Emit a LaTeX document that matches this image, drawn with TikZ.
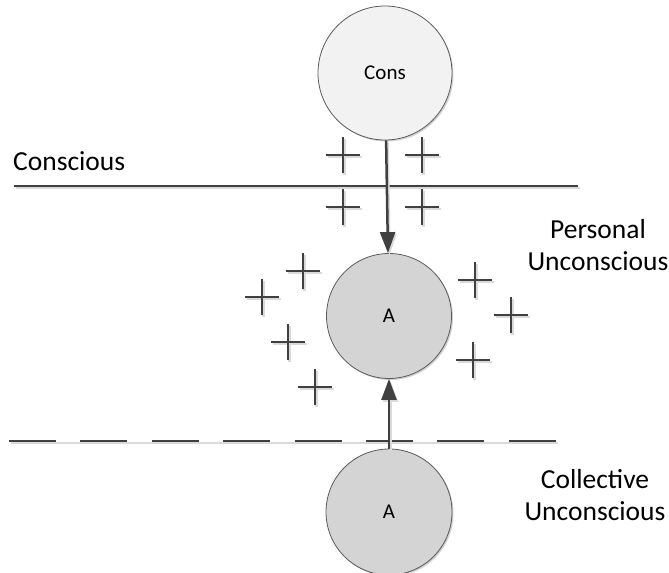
\documentclass[tikz,border=0pt]{standalone}
\usepackage{fontspec}
\setmainfont{Carlito}
\usetikzlibrary{arrows.meta,shadows}
\definecolor{ink}{HTML}{404040}
\definecolor{rim}{HTML}{5A5A5A}
\definecolor{paleball}{HTML}{F2F2F2}
\definecolor{greyball}{HTML}{D4D4D4}
\definecolor{shade}{HTML}{DADADA}
\tikzset{
  heavy/.style={draw=ink, line width=2.5bp,
    preaction={draw=shade, line width=2.5bp, transform canvas={shift={(1.5bp,-2bp)}}}},
  ball/.style={circle, draw=rim, line width=0.8bp, inner sep=0pt,
    minimum size=#1, font=\fontsize{21bp}{25bp}\selectfont,
    drop shadow={shadow xshift=1.5bp, shadow yshift=-1.5bp, opacity=0.18, fill=black}},
  levelname/.style={font=\fontsize{27.5bp}{32bp}\selectfont, inner sep=0pt},
  push/.style={heavy, -{Triangle[length=21bp, width=15bp]}},
  cross/.pic={\draw[heavy] (-17,0) -- (17,0) (0,-18) -- (0,18);}
}
\begin{document}
\begin{tikzpicture}[x=1bp, y=-1bp]
  \useasboundingbox (0,0) rectangle (669,573);

  % boundary between the conscious and the personal unconscious
  \draw[heavy] (14,186) -- (578,186);
  % boundary above the collective unconscious
  \draw[heavy, dash pattern=on 47bp off 24.4bp] (9,441) -- (556,441);

  % layer names
  \node[levelname, anchor=base west] (lconscious) at (13,171) {Conscious};
  \node[levelname, align=center] (lpersonal) at (598,245) {Personal\\Unconscious};
  \node[levelname, align=center] (lcollective) at (595,495) {Collective\\Unconscious};

  % contents of each layer
  \node[ball=134bp, fill=paleball] (cons) at (385,73) {Cons};
  \node[ball=125bp, fill=greyball] (amid) at (389,316) {A};
  \node[ball=126bp, fill=greyball] (abot) at (389,512) {A};

  % complexes near the threshold
  \pic at (343,155) {cross};
  \pic at (422,155) {cross};
  \pic at (343,207) {cross};
  \pic at (422,207) {cross};

  % complexes around the archetype
  \pic at (303,271) {cross};
  \pic at (262,297) {cross};
  \pic at (288,342) {cross};
  \pic at (315,387) {cross};
  \pic at (475,280) {cross};
  \pic at (511,315) {cross};
  \pic at (473,360) {cross};

  % influences
  \draw[push] (cons) -- (amid);
  \draw[push] (abot) -- (amid);
\end{tikzpicture}
\end{document}
